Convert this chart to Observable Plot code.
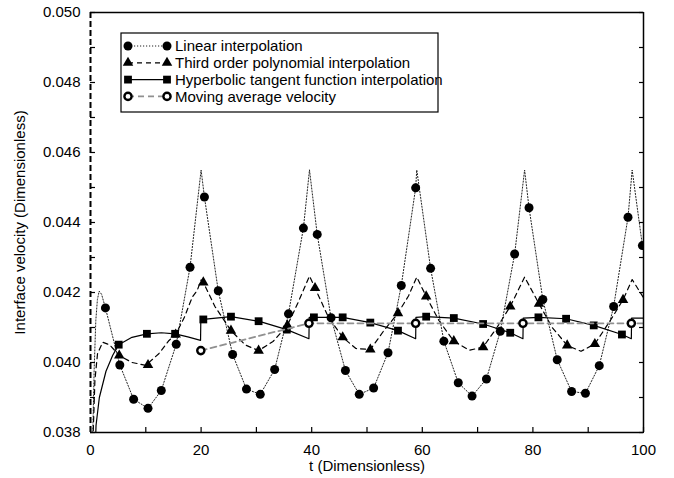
<!DOCTYPE html>
<html>
<head>
<meta charset="utf-8">
<script src="https://cdn.jsdelivr.net/npm/d3@7"></script>
<script src="https://cdn.jsdelivr.net/npm/@observablehq/plot@0.6"></script>
<style>
  body { margin: 0; background: #fff; }
  #chart { width: 674px; height: 478px; }
  svg { display: block; }
</style>
</head>
<body>
<div id="chart"></div>
<script>
// ---------- data ----------
const xDomain = [0, 100];
const yDomain = [0.038, 0.050];
const xLabelTicks = [0, 20, 40, 60, 80, 100];
const xMinorTicks = [0, 10, 20, 30, 40, 50, 60, 70, 80, 90, 100];
const yLabelTicks = [0.038, 0.040, 0.042, 0.044, 0.046, 0.048, 0.050];
const yMinorTicks = [0.038, 0.039, 0.040, 0.041, 0.042, 0.043, 0.044, 0.045, 0.046, 0.047, 0.048, 0.049, 0.050];
const xTitle = "t (Dimensionless)";
const yTitle = "Interface velocity (Dimensionless)";

const seriesNames = [
  "Linear interpolation",
  "Third order polynomial interpolation",
  "Hyperbolic tangent function interpolation",
  "Moving average velocity"
];

// Linear interpolation: curve and markers
const linearLineT = [0.35, 0.66, 0.96, 1.25, 1.57, 2.0, 2.7, 5.3, 7.8, 10.4, 12.8, 15.5, 18.0, 20.0, 20.6, 23.1, 25.7, 28.2, 30.7, 33.3, 35.8, 38.5, 39.6, 41.0, 43.5, 46.1, 48.6, 51.2, 53.8, 56.2, 58.8, 59.0, 61.5, 63.9, 66.5, 69.0, 71.6, 74.1, 76.7, 78.5, 79.3, 81.8, 84.4, 87.0, 89.5, 92.0, 94.6, 97.2, 97.95, 99.8, 100];
const linearLineV = [0.0375, 0.0398, 0.0412, 0.0418, 0.04204, 0.04195, 0.04156, 0.03993, 0.03895, 0.03869, 0.0392, 0.04052, 0.04272, 0.0455, 0.04473, 0.04205, 0.04023, 0.03924, 0.03909, 0.0398, 0.04139, 0.04384, 0.0455, 0.04366, 0.04128, 0.03977, 0.03909, 0.03927, 0.04028, 0.0422, 0.04499, 0.0455, 0.04269, 0.04061, 0.03942, 0.03904, 0.03953, 0.04089, 0.0431, 0.0455, 0.04442, 0.0418, 0.04008, 0.03917, 0.03912, 0.03991, 0.0416, 0.04415, 0.0455, 0.04334, 0.0432];
const linearMarkT = [2.7, 5.3, 7.8, 10.4, 12.8, 15.5, 18.0, 20.6, 23.1, 25.7, 28.2, 30.7, 33.3, 35.8, 38.5, 41.0, 43.5, 46.1, 48.6, 51.2, 53.8, 56.2, 58.8, 61.5, 63.9, 66.5, 69.0, 71.6, 74.1, 76.7, 79.3, 81.8, 84.4, 87.0, 89.5, 92.0, 94.6, 97.2, 99.8];
const linearMarkV = [0.04156, 0.03993, 0.03895, 0.03869, 0.0392, 0.04052, 0.04272, 0.04473, 0.04205, 0.04023, 0.03924, 0.03909, 0.0398, 0.04139, 0.04384, 0.04366, 0.04128, 0.03977, 0.03909, 0.03927, 0.04028, 0.0422, 0.04499, 0.04269, 0.04061, 0.03942, 0.03904, 0.03953, 0.04089, 0.0431, 0.04442, 0.0418, 0.04008, 0.03917, 0.03912, 0.03991, 0.0416, 0.04415, 0.04334];

// Third order polynomial interpolation
const thirdLineT = [0.45, 0.8, 1.27, 2.2, 3.5, 5.2, 7.5, 10.0, 12.35, 14.2, 15.4, 17.0, 18.4, 19.3, 20.0, 20.4, 22.5, 25.4, 28.0, 30.4, 33.0, 35.6, 37.5, 39.6, 40.6, 43.0, 45.6, 48.0, 50.6, 53.0, 55.6, 57.5, 59.0, 60.7, 63.0, 65.7, 68.5, 71.0, 73.5, 75.9, 78.5, 81.1, 83.5, 86.2, 88.7, 91.2, 94.0, 96.3, 97.95, 100];
const thirdLineV = [0.0378, 0.0395, 0.04025, 0.04058, 0.0405, 0.0402, 0.04, 0.03992, 0.04025, 0.04063, 0.0408, 0.0413, 0.04187, 0.04206, 0.04236, 0.04229, 0.0416, 0.04091, 0.0405, 0.04034, 0.0406, 0.04106, 0.0417, 0.04247, 0.04213, 0.0413, 0.04072, 0.0404, 0.04037, 0.0409, 0.04141, 0.0419, 0.04244, 0.04189, 0.0412, 0.04061, 0.04035, 0.04044, 0.041, 0.0416, 0.04244, 0.04168, 0.041, 0.04049, 0.04032, 0.04053, 0.0412, 0.04179, 0.04237, 0.04185];
const thirdMarkT = [5.2, 10.4, 15.4, 20.4, 25.4, 30.4, 35.6, 40.6, 45.6, 50.6, 55.6, 60.7, 65.7, 71.0, 75.9, 81.1, 86.2, 91.2, 96.3];
const thirdMarkV = [0.0402, 0.03993, 0.0408, 0.04229, 0.04091, 0.04034, 0.04106, 0.04213, 0.04072, 0.04037, 0.04141, 0.04189, 0.04061, 0.04044, 0.0416, 0.04168, 0.04049, 0.04053, 0.04179];

// Hyperbolic tangent function interpolation
const hyperLineT = [0.75, 1.0, 1.6, 2.8, 4.0, 5.1, 7.5, 10.2, 12.8, 15.3, 17.6, 19.9, 19.95, 20.4, 25.4, 30.4, 35.5, 39.5, 39.55, 40.4, 45.6, 50.6, 55.6, 58.8, 58.85, 60.7, 65.7, 71.0, 75.9, 78.2, 78.25, 81.0, 86.0, 91.0, 96.1, 97.8, 97.85, 100];
const hyperLineV = [0.0370, 0.0382, 0.0390, 0.03975, 0.0402, 0.04051, 0.04072, 0.04082, 0.04085, 0.04082, 0.04073, 0.04063, 0.04123, 0.04123, 0.04131, 0.04118, 0.04094, 0.04068, 0.04129, 0.04129, 0.04129, 0.04114, 0.04091, 0.04068, 0.04129, 0.04131, 0.04127, 0.0411, 0.04085, 0.04068, 0.04127, 0.04129, 0.04125, 0.04106, 0.0408, 0.04068, 0.04127, 0.04127];
const hyperMarkT = [5.1, 10.2, 15.3, 20.4, 25.4, 30.4, 35.5, 40.4, 45.6, 50.6, 55.6, 60.7, 65.7, 71.0, 75.9, 81.0, 86.0, 91.0, 96.1];
const hyperMarkV = [0.04051, 0.04082, 0.04082, 0.04123, 0.04131, 0.04118, 0.04094, 0.04129, 0.04129, 0.04114, 0.04091, 0.04131, 0.04127, 0.0411, 0.04085, 0.04129, 0.04125, 0.04106, 0.0408];

// Moving average velocity
const avgLineT = [19.95, 39.5, 58.8, 78.2, 97.8, 100];
const avgLineV = [0.04034, 0.04112, 0.04112, 0.04112, 0.04112, 0.04112];
const avgMarkT = [19.95, 39.5, 58.8, 78.2, 97.8];
const avgMarkV = [0.04034, 0.04112, 0.04112, 0.04112, 0.04112];

// ---------- tables ----------
const zip = (T, V) => T.map((t, i) => ({t, v: V[i]}));
const linearLine = zip(linearLineT, linearLineV);
const linearMark = zip(linearMarkT, linearMarkV);
const thirdLine = zip(thirdLineT, thirdLineV);
const thirdMark = zip(thirdMarkT, thirdMarkV);
const hyperLine = zip(hyperLineT, hyperLineV);
const hyperMark = zip(hyperMarkT, hyperMarkV);
const avgLine = zip(avgLineT, avgLineV);
const avgMark = zip(avgMarkT, avgMarkV);

// ---------- styles ----------
const FONT = "'Liberation Sans', Arial, Helvetica, sans-serif";
const sty = {
  linear: {stroke: "#222", strokeWidth: 1, strokeDasharray: "1.2,1.8"},
  third: {stroke: "#000", strokeWidth: 1.2, strokeDasharray: "5,4"},
  hyper: {stroke: "#000", strokeWidth: 1.2},
  avg: {stroke: "#909090", strokeWidth: 1.8, strokeDasharray: "6,4"}
};
const blank = () => "";

const plot = Plot.plot({
  width: 674,
  height: 478,
  marginLeft: 90,
  marginRight: 31,
  marginTop: 12,
  marginBottom: 46,
  style: {fontFamily: FONT, fontSize: "15px", color: "#000", background: "#fff"},
  x: {domain: xDomain},
  y: {domain: yDomain},
  marks: [
    // series
    Plot.line(linearLine, {x: "t", y: "v", ...sty.linear, clip: true}),
    Plot.dot(linearMark, {x: "t", y: "v", r: 4.5, fill: "#000", stroke: "none", clip: true}),
    Plot.line(thirdLine, {x: "t", y: "v", ...sty.third, clip: true}),
    Plot.dot(thirdMark, {x: "t", y: "v", symbol: "triangle", r: 3.9, fill: "#000", stroke: "none", clip: true}),
    Plot.line(hyperLine, {x: "t", y: "v", ...sty.hyper, clip: true}),
    Plot.dot(hyperMark, {x: "t", y: "v", symbol: "square", r: 4.4, fill: "#000", stroke: "none", clip: true}),
    Plot.line(avgLine, {x: "t", y: "v", ...sty.avg, clip: true}),
    Plot.dot(avgMark, {x: "t", y: "v", r: 3.6, fill: "#fff", stroke: "#000", strokeWidth: 2.4, clip: true}),
    // frame
    Plot.ruleY([yDomain[0], yDomain[1]], {stroke: "#000", strokeWidth: 1.5}),
    Plot.ruleX([xDomain[1]], {stroke: "#000", strokeWidth: 1.5}),
    Plot.ruleX([xDomain[0]], {stroke: "#000", strokeWidth: 2, strokeDasharray: "6,3"}),
    // axes
    Plot.axisY({ticks: yLabelTicks, tickSize: 0, tickPadding: 10, tickFormat: d3.format(".3f"), label: null}),
    Plot.axisY({ticks: yMinorTicks, tickSize: -5, tickFormat: blank, label: null, strokeWidth: 1.2}),
    Plot.axisY({anchor: "right", ticks: yMinorTicks, tickSize: -5, tickFormat: blank, label: null, strokeWidth: 1.2}),
    Plot.axisX({ticks: xLabelTicks, tickSize: 0, tickPadding: 12, tickFormat: d3.format("d"), label: null}),
    Plot.axisX({ticks: xMinorTicks, tickSize: -5, tickFormat: blank, label: null, strokeWidth: 1.2}),
    // axis titles
    Plot.text([xTitle], {frameAnchor: "bottom", dy: 34, text: d => d, fontSize: 15, lineAnchor: "middle", textAnchor: "middle"}),
    Plot.text([yTitle], {frameAnchor: "left", dx: -70, rotate: -90, text: d => d, fontSize: 15, lineAnchor: "middle", textAnchor: "middle"})
  ]
});

document.getElementById("chart").appendChild(plot);

// ---------- legend (inside plot area, top-left) ----------
const svg = d3.select(plot);
const lg = svg.append("g").attr("font-family", FONT).attr("font-size", 15).attr("fill", "#000")
  .attr("text-anchor", "start");
lg.append("rect").attr("x", 121).attr("y", 33).attr("width", 317).attr("height", 79)
  .attr("fill", "#fff").attr("stroke", "#000").attr("stroke-width", 1.2);
const rows = [
  {name: seriesNames[0], s: sty.linear, sym: "circle", fill: "#000", stroke: "none", r: 4.5},
  {name: seriesNames[1], s: sty.third, sym: "triangle", fill: "#000", stroke: "none", r: 3.9},
  {name: seriesNames[2], s: sty.hyper, sym: "square", fill: "#000", stroke: "none", r: 4.4},
  {name: seriesNames[3], s: sty.avg, sym: "ring", fill: "#fff", stroke: "#000", r: 3.6}
];
const symType = {circle: d3.symbolCircle, triangle: d3.symbolTriangle, square: d3.symbolSquare, ring: d3.symbolCircle};
rows.forEach((row, i) => {
  const y = 46 + i * 16.8;
  lg.append("line").attr("x1", 128).attr("x2", 167).attr("y1", y).attr("y2", y)
    .attr("stroke", row.s.stroke).attr("stroke-width", row.s.strokeWidth)
    .attr("stroke-dasharray", row.s.strokeDasharray || null);
  [128, 167].forEach(cx => {
    lg.append("path")
      .attr("d", d3.symbol(symType[row.sym], Math.PI * row.r * row.r)())
      .attr("transform", `translate(${cx},${y})`)
      .attr("fill", row.fill)
      .attr("stroke", row.stroke)
      .attr("stroke-width", row.sym === "ring" ? 2.4 : null);
  });
  lg.append("text").attr("x", 175).attr("y", y).attr("dy", "0.35em")
    .attr("text-anchor", "start").text(row.name);
});
</script>
</body>
</html>
